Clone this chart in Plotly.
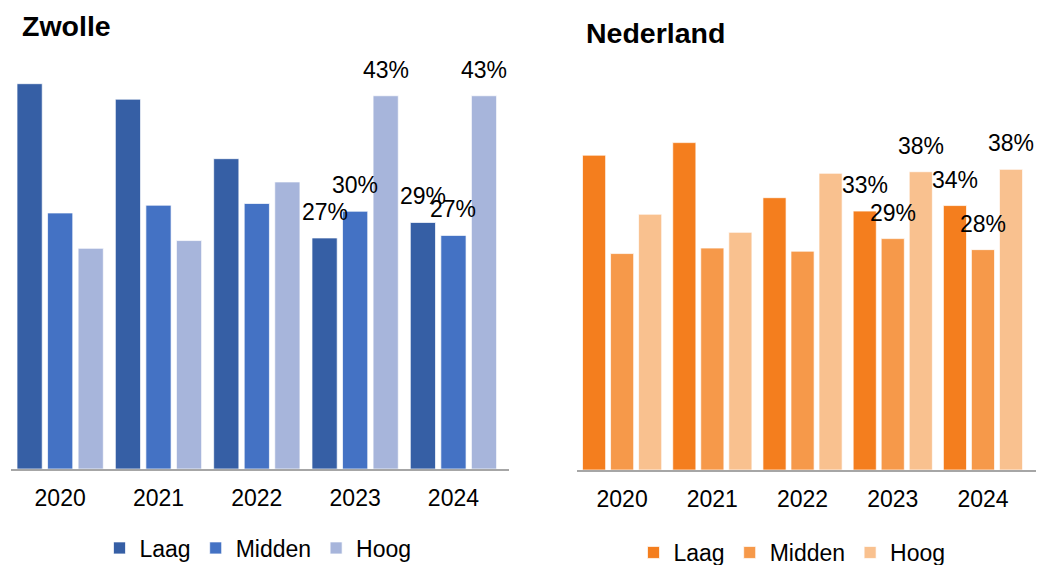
import plotly.graph_objects as go

years = ["2020", "2021", "2022", "2023", "2024"]
series_names = ["Laag", "Midden", "Hoog"]

zwolle_laag = [44.7, 42.9, 36.0, 26.8, 28.6]
zwolle_midden = [29.7, 30.6, 30.8, 29.9, 27.1]
zwolle_hoog = [25.6, 26.5, 33.3, 43.3, 43.3]

nl_laag = [40.0, 41.6, 34.6, 32.9, 33.6]
nl_midden = [27.5, 28.2, 27.8, 29.4, 28.0]
nl_hoog = [32.5, 30.2, 37.7, 37.9, 38.2]

label_years = ["2023", "2024"]

zwolle_colors = ["#365FA5", "#4472C4", "#A7B5DB"]
nl_colors = ["#F47E1E", "#F6994A", "#F9C18F"]

FONT = "Arial, Liberation Sans, sans-serif"
BARGAP = 0.068
BARGROUPGAP = 0.175

fig = go.Figure()

panels = [
    ("x", "y", "legend", [zwolle_laag, zwolle_midden, zwolle_hoog], zwolle_colors),
    ("x2", "y2", "legend2", [nl_laag, nl_midden, nl_hoog], nl_colors),
]

for xa, ya, leg, data, colors in panels:
    for j, (name, vals, col) in enumerate(zip(series_names, data, colors)):
        fig.add_trace(go.Bar(
            x=years, y=vals, name=name, xaxis=xa, yaxis=ya, legend=leg,
            marker=dict(color=col, line=dict(color="rgba(255,255,255,0.7)", width=1)),
            hoverinfo="skip",
        ))
        slot = (1 - BARGAP) / 3
        for i, (yr, v) in enumerate(zip(years, vals)):
            if yr in label_years:
                fig.add_annotation(
                    x=i + (j - 1) * slot, y=v, xref=xa, yref=ya,
                    text=f"{round(v)}%", showarrow=False,
                    yanchor="bottom", xanchor="center", yshift=11,
                    font=dict(family=FONT, size=23, color="#000000"),
                )

W, H = 1058, 565
axis_common = dict(
    type="category", showline=True, linecolor="#A6A6A6", linewidth=1.5,
    showgrid=False, zeroline=False, ticks="", ticklabelstandoff=8,
    tickfont=dict(family=FONT, size=23, color="#000000"),
)
yaxis_common = dict(visible=False, showgrid=False, zeroline=False, range=[0, 50])

fig.update_layout(
    width=W, height=H,
    margin=dict(l=0, r=0, t=0, b=0, autoexpand=False),
    paper_bgcolor="white", plot_bgcolor="white",
    barmode="group", bargap=BARGAP, bargroupgap=BARGROUPGAP,
    xaxis=dict(domain=[11 / W, 509 / W], anchor="y", **axis_common),
    yaxis=dict(domain=[96 / H, (565 - 38) / H], anchor="x", **yaxis_common),
    xaxis2=dict(domain=[577 / W, 1036 / W], anchor="y2", **axis_common),
    yaxis2=dict(domain=[95 / H, (565 - 76.5) / H], anchor="x2", **yaxis_common),
    legend=dict(
        orientation="h", x=258 / W, xanchor="center", y=(565 - 548) / H, yanchor="middle",
        font=dict(family=FONT, size=23, color="#000000"), bgcolor="rgba(0,0,0,0)",
    ),
    legend2=dict(
        orientation="h", x=792 / W, xanchor="center", y=(565 - 552.5) / H, yanchor="middle",
        font=dict(family=FONT, size=23, color="#000000"), bgcolor="rgba(0,0,0,0)",
    ),
    showlegend=True,
)

fig.add_annotation(
    x=20 / W, y=1 - 8.5 / H, xref="paper", yref="paper", xanchor="left", yanchor="top",
    text="<b>Zwolle</b>", showarrow=False,
    font=dict(family=FONT, size=28.5, color="#000000"),
)
fig.add_annotation(
    x=584 / W, y=1 - 15.4 / H, xref="paper", yref="paper", xanchor="left", yanchor="top",
    text="<b>Nederland</b>", showarrow=False,
    font=dict(family=FONT, size=28.5, color="#000000"),
)

fig.write_html(
    "out.html",
    config={"displayModeBar": False},
    post_script="document.body.style.margin='0px';",
)
